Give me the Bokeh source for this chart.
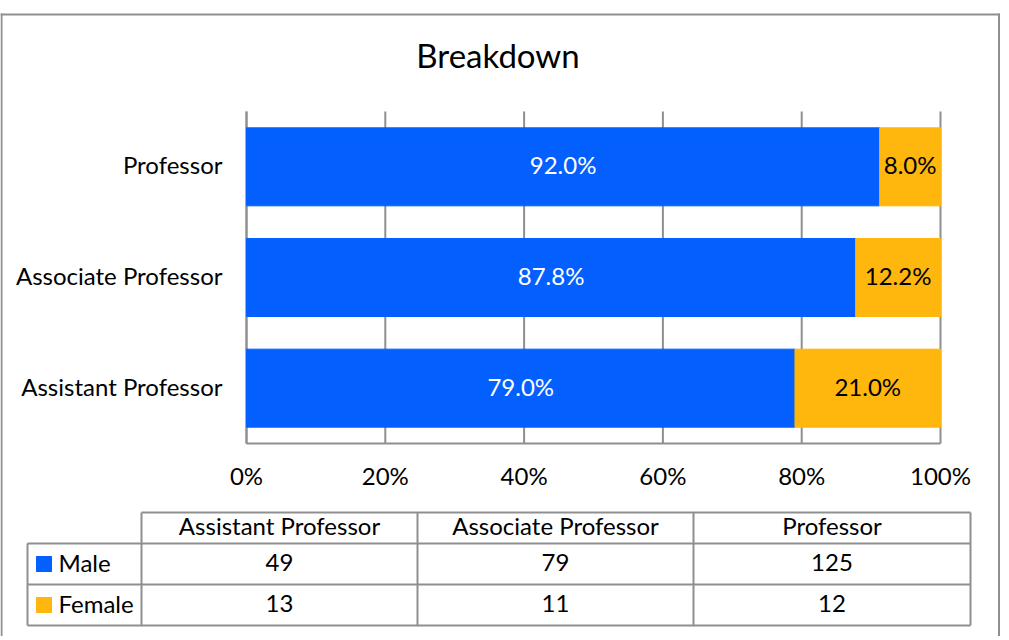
from bokeh.plotting import figure
from bokeh.models import Range1d, ColumnDataSource
from bokeh.embed import file_html
from bokeh.resources import INLINE
from bokeh.core.properties import value

# ---------------- data ----------------
title_text = "Breakdown"
categories = ["Assistant Professor", "Associate Professor", "Professor"]
series_names = ["Male", "Female"]
male_counts = [49, 79, 125]
female_counts = [13, 11, 12]
male_labels = ["79.0%", "87.8%", "92.0%"]
female_labels = ["21.0%", "12.2%", "8.0%"]
x_ticks = [0, 20, 40, 60, 80, 100]
x_tick_labels = ["0%", "20%", "40%", "60%", "80%", "100%"]

# ---------------- styles / layout ----------------
BLUE = "#0360FF"
ORANGE = "#FFB60D"
GRID = "#8f8f8f"
FONT = "Lato"
FS = "24px"
W, H = 1004, 636
YOFF = -2

# plot area in page pixels
PA_LEFT, PA_RIGHT, PA_TOP, PA_BOTTOM = 246, 940, 111, 443
px_per_pct = (PA_RIGHT - PA_LEFT) / 100.0
pct_start = -PA_LEFT / px_per_pct
pct_end = 100 + (W - PA_RIGHT) / px_per_pct
n = len(categories)
pitch = (PA_BOTTOM - PA_TOP) / n
bottom_center = PA_BOTTOM - pitch / 2          # centre of category index 0
cat_start = 0 - (H - bottom_center) / pitch
cat_end = cat_start + H / pitch

totals = [m + f for m, f in zip(male_counts, female_counts)]
male_pct = [m / t * 100 for m, t in zip(male_counts, totals)]
full_pct = [(m + f) / t * 100 for m, f, t in zip(male_counts, female_counts, totals)]
cat_idx = list(range(n))

src = ColumnDataSource(dict(
    cat=categories,
    idx=cat_idx,
    male=male_pct,
    full=full_pct,
    mid_m=[p / 2 for p in male_pct],
    mid_f=[(p + q) / 2 for p, q in zip(male_pct, full_pct)],
    ml=male_labels,
    fl=female_labels,
))

p = figure(width=W, height=H, title=None,
           x_range=Range1d(0, W), y_range=Range1d(H, 0),
           output_backend="svg", toolbar_location=None,
           x_axis_location=None, y_axis_location=None,
           min_border_left=0, min_border_right=0, min_border_top=0, min_border_bottom=0,
           outline_line_color=None)
p.grid.visible = False
p.extra_x_ranges = {"pct": Range1d(pct_start, pct_end)}
p.extra_y_ranges = {"bar": Range1d(cat_start, cat_end)}

txt = dict(text_font=value(FONT), text_font_size=FS, text_baseline="middle", y_offset=YOFF)

# outer border (left, top, right)
p.segment(x0=[1, 0, 998.5], y0=[13, 14, 13], x1=[1, 999.5, 998.5], y1=[H, 14, H],
          line_color=GRID, line_width=2)

# title
p.text(x=[497.5], y=[56.5], text=[title_text], text_align="center", text_baseline="middle",
       y_offset=-2.5, text_font=value(FONT), text_font_size="33px", text_color="black")

# gridlines
p.segment(x0=x_ticks, y0=[PA_TOP] * len(x_ticks), x1=x_ticks, y1=[PA_BOTTOM] * len(x_ticks),
          x_range_name="pct", line_color=GRID, line_width=2)
# axis lines
p.segment(x0=[0, 0], y0=[PA_TOP, PA_BOTTOM], x1=[0, 100], y1=[PA_BOTTOM, PA_BOTTOM],
          x_range_name="pct", line_color=GRID, line_width=2)

# bars
p.hbar(y="idx", left=0, right="male", height=0.705, color=BLUE, source=src,
       x_range_name="pct", y_range_name="bar")
p.hbar(y="idx", left="male", right="full", height=0.705, color=ORANGE, source=src,
       x_range_name="pct", y_range_name="bar")
p.text(x="mid_m", y="idx", text="ml", source=src, text_color="white",
       text_align="center", x_range_name="pct", y_range_name="bar", **txt)
p.text(x="mid_f", y="idx", text="fl", source=src, text_color="black",
       text_align="center", x_range_name="pct", y_range_name="bar", **txt)

# category labels
p.text(x=PA_LEFT - 24, y="idx", text="cat", source=src, text_color="black",
       text_align="right", y_range_name="bar", **txt)
# x tick labels
p.text(x=x_ticks, y=[476.5] * len(x_ticks), text=x_tick_labels, text_color="black",
       text_align="center", x_range_name="pct", **txt)

# ---------------- data table ----------------
col_edges = [141, 417, 693, 970]
legend_left = 27
row_edges = [512, 543, 584, 625]

hx0 = [col_edges[0]] + [legend_left] * 3
hx1 = [col_edges[-1]] * 4
p.segment(x0=hx0, y0=row_edges, x1=hx1, y1=row_edges, line_color=GRID, line_width=2)
vx = [legend_left] + col_edges
vy0 = [row_edges[1]] + [row_edges[0]] * 4
vy1 = [row_edges[-1]] * 5
p.segment(x0=vx, y0=vy0, x1=vx, y1=vy1, line_color=GRID, line_width=2)

centers = [(a + b) / 2 for a, b in zip(col_edges[:-1], col_edges[1:])]
row_mid = [(a + b) / 2 for a, b in zip(row_edges[:-1], row_edges[1:])]
p.text(x=centers, y=[row_mid[0] - 1] * n, text=categories, text_align="center",
       text_color="black", **txt)
p.text(x=centers, y=[row_mid[1]] * n, text=[str(v) for v in male_counts], text_align="center",
       text_color="black", **txt)
p.text(x=centers, y=[row_mid[2]] * n, text=[str(v) for v in female_counts], text_align="center",
       text_color="black", **txt)

# legend keys
p.quad(left=[36, 36], right=[51, 51], top=[556, 597], bottom=[571, 612],
       color=[BLUE, ORANGE])
p.text(x=[58, 58], y=row_mid[1:], text=series_names, text_align="left",
       text_color="black", **txt)

open("out.html", "w").write(file_html(p, INLINE))
